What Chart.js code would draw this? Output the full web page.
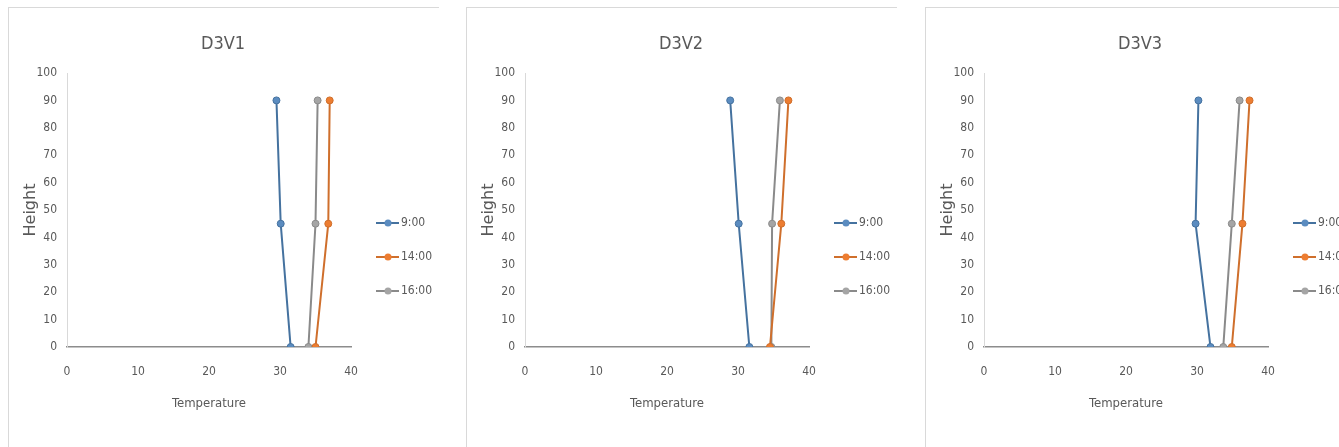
<!DOCTYPE html>
<html lang="en">
<head>
    <meta charset="UTF-8">
    <title>Temperature profiles D3V1 - D3V3</title>
    <script src="https://cdn.jsdelivr.net/npm/chart.js"></script>
    <style>
        body {
            margin: 0;
            background: #ffffff;
            width: 1339px;
            height: 447px;
            overflow: hidden;
            position: relative;
        }

        .panel {
            position: absolute;
            top: 7px;
            width: 430px;
            height: 440px;
            border-top: 1px solid #d9d9d9;
            border-left: 1px solid #d9d9d9;
        }

        .panel canvas {
            position: absolute;
            left: 0;
            top: 0;
        }
    </style>
</head>
<body>

    <div class="panel" style="left: 8px;"><canvas id="chart1" width="430" height="440"></canvas></div>
    <div class="panel" style="left: 466px;"><canvas id="chart2" width="430" height="440"></canvas></div>
    <div class="panel" style="left: 925px;"><canvas id="chart3" width="430" height="440"></canvas></div>

    <script>
        // Heights of the three sensors (y values), shared by every series
        var heights = [90, 45, 0];

        var panelTitles = ['D3V1', 'D3V2', 'D3V3'];
        var seriesNames = ['9:00', '14:00', '16:00'];

        // Temperatures at each height, one array per time of day
        var d3v1At0900 = [29.5, 30.1, 31.5];
        var d3v1At1400 = [37.0, 36.8, 35.0];
        var d3v1At1600 = [35.3, 35.0, 34.0];

        var d3v2At0900 = [28.9, 30.1, 31.6];
        var d3v2At1400 = [37.1, 36.1, 34.5];
        var d3v2At1600 = [35.9, 34.8, 34.7];

        var d3v3At0900 = [30.2, 29.8, 31.9];
        var d3v3At1400 = [37.4, 36.4, 34.9];
        var d3v3At1600 = [36.0, 34.9, 33.7];

        var xTicks = [0, 10, 20, 30, 40];
        var yTicks = [0, 10, 20, 30, 40, 50, 60, 70, 80, 90, 100];

        var panelSeries = [
            [d3v1At0900, d3v1At1400, d3v1At1600],
            [d3v2At0900, d3v2At1400, d3v2At1600],
            [d3v3At0900, d3v3At1400, d3v3At1600]
        ];

        var lineColors = ['#45729f', '#cf6f2c', '#8a8a8a'];
        var markerColors = ['#5b8cc0', '#ed7d31', '#a5a5a5'];

        var narrowFont = "'Liberation Sans Narrow', 'DejaVu Sans Condensed', sans-serif";
        var textColor = '#595959';

        // Center the chart title over the whole canvas, not just the plot
        var wideTitle = {
            id: 'wideTitle',
            afterLayout: function(chart) {
                if (chart.titleBlock) {
                    chart.titleBlock.left = 0;
                    chart.titleBlock.right = chart.width - 2;
                }
            }
        };

        // Legend in the Excel style: short line with a marker in the middle
        var sideLegend = {
            id: 'sideLegend',
            afterDraw: function(chart) {
                var ctx = chart.ctx;
                var x0 = chart.chartArea.right + 25;
                ctx.save();
                chart.data.datasets.forEach(function(ds, i) {
                    var y = 215 + i * 34;
                    ctx.strokeStyle = ds.borderColor;
                    ctx.lineWidth = 2;
                    ctx.beginPath();
                    ctx.moveTo(x0, y);
                    ctx.lineTo(x0 + 23, y);
                    ctx.stroke();
                    ctx.fillStyle = ds.pointBackgroundColor;
                    ctx.beginPath();
                    ctx.arc(x0 + 12, y, 3.5, 0, Math.PI * 2);
                    ctx.fill();
                    ctx.fillStyle = textColor;
                    ctx.font = '12px ' + narrowFont;
                    ctx.textBaseline = 'middle';
                    ctx.fillText(ds.label, x0 + 25, y);
                });
                ctx.restore();
            }
        };

        function makeChart(canvasId, title, series) {
            var datasets = series.map(function(temps, i) {
                return {
                    label: seriesNames[i],
                    data: temps.map(function(t, k) { return { x: t, y: heights[k] }; }),
                    showLine: true,
                    borderColor: lineColors[i],
                    borderWidth: 2,
                    pointBackgroundColor: markerColors[i],
                    pointBorderColor: lineColors[i],
                    pointBorderWidth: 1,
                    pointRadius: 3.5,
                    tension: 0
                };
            });

            var ctx = document.getElementById(canvasId).getContext('2d');
            return new Chart(ctx, {
                type: 'scatter',
                data: { datasets: datasets },
                plugins: [wideTitle, sideLegend],
                options: {
                    responsive: false,
                    animation: false,
                    layout: { padding: { left: 0, right: 88, top: 0, bottom: 0 } },
                    plugins: {
                        legend: { display: false },
                        tooltip: { enabled: false },
                        title: {
                            display: true,
                            text: title,
                            color: textColor,
                            font: { family: narrowFont, size: 18, weight: 'normal' },
                            padding: { top: 25.2, bottom: 18.2 }
                        }
                    },
                    scales: {
                        x: {
                            type: 'linear',
                            min: xTicks[0],
                            max: xTicks[xTicks.length - 1],
                            afterBuildTicks: function(axis) {
                                axis.ticks = xTicks.map(function(v) { return { value: v }; });
                            },
                            afterFit: function(axis) { axis.height = 101; },
                            grid: { display: false, drawTicks: false },
                            border: { display: true, color: '#8c8c8c', width: 1.5 },
                            ticks: {
                                color: textColor,
                                padding: 18,
                                font: { family: narrowFont, size: 12 }
                            },
                            title: {
                                display: true,
                                text: 'Temperature',
                                color: textColor,
                                font: { family: narrowFont, size: 13 },
                                padding: { top: 0, bottom: 37 }
                            }
                        },
                        y: {
                            type: 'linear',
                            min: yTicks[0],
                            max: yTicks[yTicks.length - 1],
                            afterBuildTicks: function(axis) {
                                axis.ticks = yTicks.map(function(v) { return { value: v }; });
                            },
                            afterFit: function(axis) { axis.width = 58; },
                            grid: { display: false, drawTicks: false },
                            border: { display: true, color: '#d9d9d9', width: 1 },
                            ticks: {
                                color: textColor,
                                padding: 10,
                                font: { family: narrowFont, size: 12 }
                            },
                            title: {
                                display: true,
                                text: 'Height',
                                color: textColor,
                                font: { family: "'DejaVu Sans', sans-serif", size: 16 },
                                padding: { top: 12.4, bottom: 0 }
                            }
                        }
                    }
                }
            });
        }

        window.charts = panelTitles.map(function(t, i) {
            return makeChart('chart' + (i + 1), t, panelSeries[i]);
        });
    </script>
</body>
</html>
